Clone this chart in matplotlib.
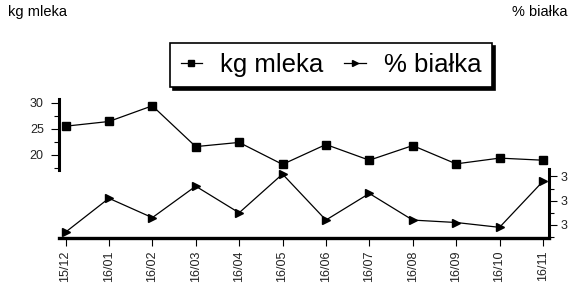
import matplotlib
matplotlib.use("Agg")
import matplotlib.pyplot as plt
from matplotlib.ticker import FixedLocator, FormatStrFormatter

# dane miesięczne
months = ["15/12", "16/01", "16/02", "16/03", "16/04", "16/05",
          "16/06", "16/07", "16/08", "16/09", "16/10", "16/11"]
kg_mleka = [25.5, 26.4, 29.4, 21.6, 22.4, 18.2, 22.0, 19.0, 21.8, 18.3, 19.4, 19.0]
proc_bialka = [3.17, 3.31, 3.23, 3.36, 3.25, 3.41, 3.22, 3.33, 3.22, 3.21, 3.19, 3.38]

plt.rcParams["font.family"] = ["Liberation Sans", "DejaVu Sans"]

fig = plt.figure(figsize=(5.71, 2.83), dpi=100)
ax = fig.add_axes([59 / 571, 1 - 238 / 283, 490 / 571, 139 / 283])
ax2 = ax.twinx()

x = list(range(len(months)))
l1, = ax.plot(x, kg_mleka, color="black", lw=0.9, marker="s", ms=6,
              label="kg mleka", clip_on=False, zorder=3)
l2, = ax2.plot(x, proc_bialka, color="black", lw=0.9, marker=">", ms=5.5,
               label="% białka", clip_on=False, zorder=3)

ax.set_xlim(-0.15, 11.14)
ax.set_ylim(4.13, 30.7)
ax2.set_ylim(3.146, 3.72)

# osie
for a in (ax, ax2):
    a.spines["top"].set_visible(False)
    a.patch.set_visible(False)
ax.spines["right"].set_visible(False)
ax2.spines["left"].set_visible(False)
ax2.spines["bottom"].set_visible(False)
ax.spines["left"].set_bounds(17.2, 30.7)
ax.spines["left"].set_linewidth(2.2)
ax.spines["bottom"].set_linewidth(2.4)
ax2.spines["right"].set_bounds(3.146, 3.43)
ax2.spines["right"].set_linewidth(2.2)

ax.set_xticks(x)
ax.set_xticklabels(months, rotation=90, fontsize=9, color="#222222")
ax.tick_params(axis="x", length=6, width=0.8, pad=3)

ax.yaxis.set_major_locator(FixedLocator([20, 25, 30]))
ax.yaxis.set_minor_locator(FixedLocator([17.5, 22.5, 27.5]))
ax.tick_params(axis="y", which="major", length=6, width=0.8, labelsize=9,
               labelcolor="#222222", pad=5)
ax.tick_params(axis="y", which="minor", length=3.5, width=0.8)

ax2.yaxis.set_major_locator(FixedLocator([3.2, 3.3, 3.4]))
ax2.yaxis.set_minor_locator(FixedLocator([3.15, 3.25, 3.35]))
ax2.yaxis.set_major_formatter(FormatStrFormatter("%.0f"))
ax2.tick_params(axis="y", which="major", length=6, width=0.8, labelsize=9,
                labelcolor="#222222", pad=2)
ax2.tick_params(axis="y", which="minor", length=3.5, width=0.8)

fig.text(8 / 571, 1 - 12 / 283, "kg mleka", fontsize=10.5, va="center", ha="left")
fig.text(567 / 571, 1 - 12 / 283, "% białka", fontsize=10.5, va="center", ha="right")

leg = fig.legend([l1, l2], ["kg mleka", "% białka"], loc="center",
                 bbox_to_anchor=(331 / 571, 1 - 65 / 283), ncol=2, fontsize=18.5,
                 frameon=True, fancybox=False, edgecolor="black",
                 handlelength=0.85, handletextpad=0.7, columnspacing=0.8,
                 borderpad=0.4, shadow={"color": "black", "alpha": 1})
leg.get_frame().set_linewidth(1.2)
for h in leg.legend_handles:
    h.set_markersize(5)

fig.savefig("out.png", dpi=100)
